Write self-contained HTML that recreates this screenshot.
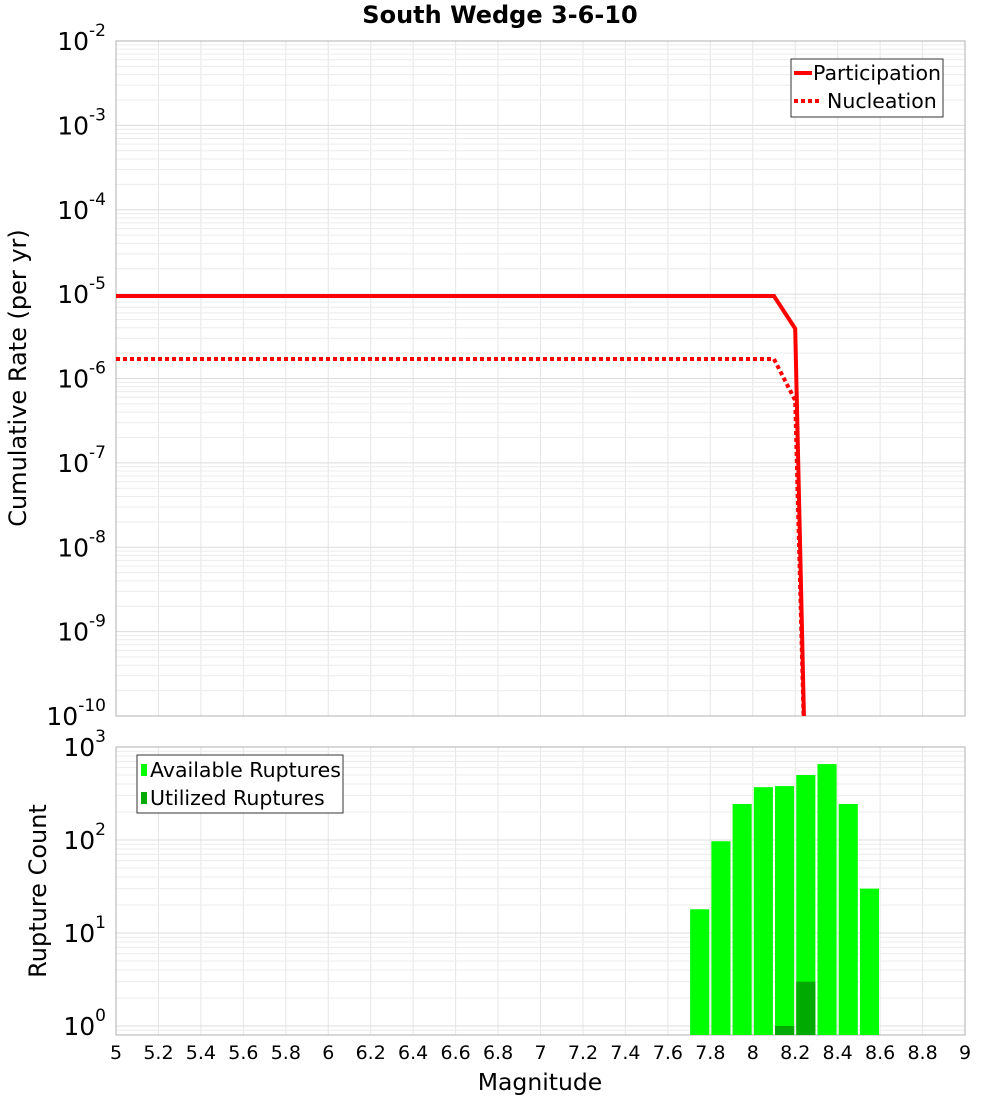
<!DOCTYPE html>
<html><head><meta charset="utf-8"><style>
body{margin:0;background:#fff;font-family:"Liberation Sans","DejaVu Sans",sans-serif}
svg text{font-family:"DejaVu Sans","Liberation Sans",sans-serif}
</style></head><body>
<svg id="c" width="1000" height="1100" xmlns="http://www.w3.org/2000/svg">
<text x="500" y="23" text-anchor="middle" font-size="24" font-weight="bold">South Wedge 3-6-10</text>
<text transform="translate(26,378) rotate(-90)" text-anchor="middle" font-size="24">Cumulative Rate (per yr)</text>
<text transform="translate(46,891) rotate(-90)" text-anchor="middle" font-size="24">Rupture Count</text>
<text x="540" y="1090" text-anchor="middle" font-size="23.5">Magnitude</text>
<g id="g"></g>
</svg>
<script>
const rateMags=[5.0,8.1,8.2,8.25];
const participation=[9.5e-6,9.5e-6,3.9e-6,1e-11];
const nucleation=[1.7e-6,1.7e-6,5.5e-7,1e-11];
const binCenters=[7.75,7.85,7.95,8.05,8.15,8.25,8.35,8.45,8.55];
const available=[18,97,244,370,380,500,655,244,30];
const utilized=[0,0,0,0,1,3,0,0,0];
const xTicks=[5,5.2,5.4,5.6,5.8,6,6.2,6.4,6.6,6.8,7,7.2,7.4,7.6,7.8,8,8.2,8.4,8.6,8.8,9];
const topExps=[-2,-3,-4,-5,-6,-7,-8,-9,-10];
const botExps=[3,2,1,0];

const NS="http://www.w3.org/2000/svg",G=document.getElementById('g');
function mk(t,a,p){const e=document.createElementNS(NS,t);for(const k in a)e.setAttribute(k,a[k]);(p||G).appendChild(e);return e;}
const X0=116,X1=965;
const xs=m=>X0+(m-5)/4*(X1-X0);
const T0=41,T1=716,yt=v=>T0+(-2-Math.log10(v))*(T1-T0)/8;
const B0=747,B1=1035,DEC=93,yb=v=>B0+(3-Math.log10(v))*DEC;
function clipR(id,y0,y1){const d=mk('defs',{});const c=mk('clipPath',{id:id},d);mk('rect',{x:X0,y:y0,width:X1-X0,height:y1-y0},c);}
clipR('ct',T0,T1);clipR('cb',B0,B1);
function grid(y0,y1,yf,lo,hi){
 for(const t of xTicks){mk('line',{x1:xs(t),x2:xs(t),y1:y0,y2:y1,stroke:'#e6e6e6'});}
 for(let e=lo;e<hi;e++)for(let k=1;k<10;k++){const y=yf(k*Math.pow(10,e));if(y>=y0&&y<=y1)mk('line',{x1:X0,x2:X1,y1:y,y2:y,stroke:k==1?'#dcdcdc':'#ececec'});}
}
grid(T0,T1,yt,-10,-2);grid(B0,B1,yb,-1,3);
mk('rect',{x:X0,y:T0,width:X1-X0,height:T1-T0,fill:'none',stroke:'#b0b0b0'});
mk('rect',{x:X0,y:B0,width:X1-X0,height:B1-B0,fill:'none',stroke:'#b0b0b0'});
function ylab(y,e,nm){const t=mk('text',{x:106,y:y+9,'text-anchor':'end','font-size':25});


t.textContent='10';const s=mk('tspan',{dy:-14,'font-size':17},t);s.textContent=String(e);}
for(const e of topExps){ylab(yt(Math.pow(10,e)),e,'top-y-tick-label');}
for(const e of botExps){ylab(yb(Math.pow(10,e)),e,'bottom-y-tick-label');}
for(const t of xTicks){const l=mk('text',{x:xs(t),y:1059,'text-anchor':'middle','font-size':19});


l.textContent=String(t);}
const lt=mk('g',{'clip-path':'url(#ct)'});
function line(vals,dash,nm){const p=mk('polyline',{points:rateMags.map((m,i)=>xs(m)+','+yt(vals[i])).join(' '),fill:'none',stroke:'#ff0000','stroke-width':4,'stroke-dasharray':dash},lt);

}
line(participation,'none','participation-line');line(nucleation,'4,3','nucleation-line');
const bg=mk('g',{'clip-path':'url(#cb)'});const bw=(X1-X0)/40*0.9;
binCenters.forEach((m,i)=>{
 const b=mk('rect',{x:xs(m)-bw/2,y:yb(available[i]),width:bw,height:B1-yb(available[i]),fill:'#00ff00'},bg);
 
 
 if(utilized[i]>0){const u=mk('rect',{x:xs(m)-bw/2,y:yb(utilized[i]),width:bw,height:B1-yb(utilized[i]),fill:'#00aa00'},bg);
 
 }
});
const l1=mk('g',{});
mk('rect',{x:791,y:59,width:152,height:58,fill:'#fff',stroke:'#333'},l1);
mk('line',{x1:794,x2:812,y1:73,y2:73,stroke:'#f00','stroke-width':4},l1);
mk('line',{x1:794,x2:822,y1:101,y2:101,stroke:'#f00','stroke-width':4,'stroke-dasharray':'4,3'},l1);
let t=mk('text',{x:813,y:80,'font-size':20.5},l1);t.textContent='Participation';
t=mk('text',{x:827,y:108,'font-size':20.5},l1);t.textContent='Nucleation';
const l2=mk('g',{});
mk('rect',{x:137,y:755,width:206,height:58,fill:'#fff',stroke:'#333'},l2);
mk('rect',{x:141,y:764,width:6,height:12,fill:'#00ff00'},l2);
mk('rect',{x:141,y:792,width:6,height:12,fill:'#00aa00'},l2);
t=mk('text',{x:150,y:777,'font-size':20.5},l2);t.textContent='Available Ruptures';
t=mk('text',{x:150,y:805,'font-size':20.5},l2);t.textContent='Utilized Ruptures';
</script>
</body></html>
